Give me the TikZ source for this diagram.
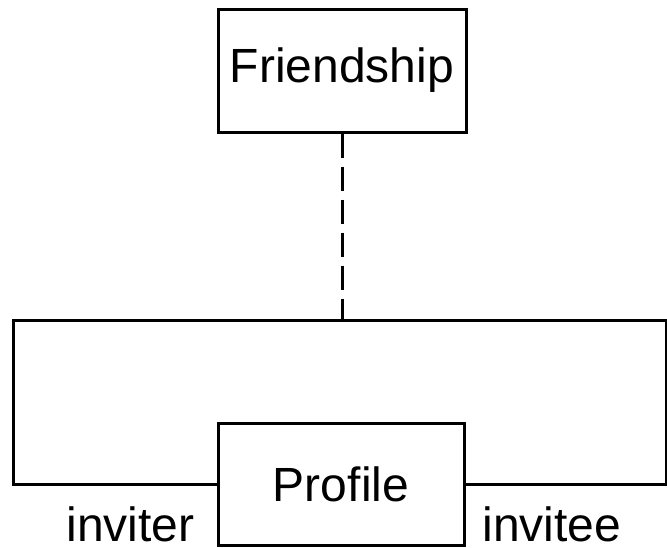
\documentclass[tikz,border=0pt]{standalone}
\usepackage{fontspec}
\setmainfont{Liberation Sans}
\usepackage{tikz}
\usetikzlibrary{positioning,calc}

\begin{document}
\begin{tikzpicture}[x=0.5pt,y=-0.5pt,line width=1.5pt,
  nodes={font=\fontsize{24}{28}\selectfont},
  classbox/.style={draw,rectangle,inner sep=0pt},
  rolelabel/.style={inner sep=0pt,text depth=0pt},
  assoc/.style={dash pattern=on 12pt off 4.5pt}]
\useasboundingbox (0,0) rectangle (667,547);
\node[classbox,minimum width=124pt,minimum height=61.5pt] (friendship) at (342,70.5) {Friendship};
\node[classbox,minimum width=123pt,minimum height=61pt] (profile) at (341,484) {Profile};
\coordinate (loopL) at (13,320);
\coordinate (loopR) at (666.5,320);
\draw (profile.west) -| (loopL) -- (loopR) |- (profile.east);
\draw[assoc] (friendship.south) -- (friendship.south |- loopL);
\node[rolelabel,anchor=base east] (inviter) at (196,541) {inviter};
\node[rolelabel,anchor=base west] (invitee) at (481,541) {invitee};
\end{tikzpicture}
\end{document}
